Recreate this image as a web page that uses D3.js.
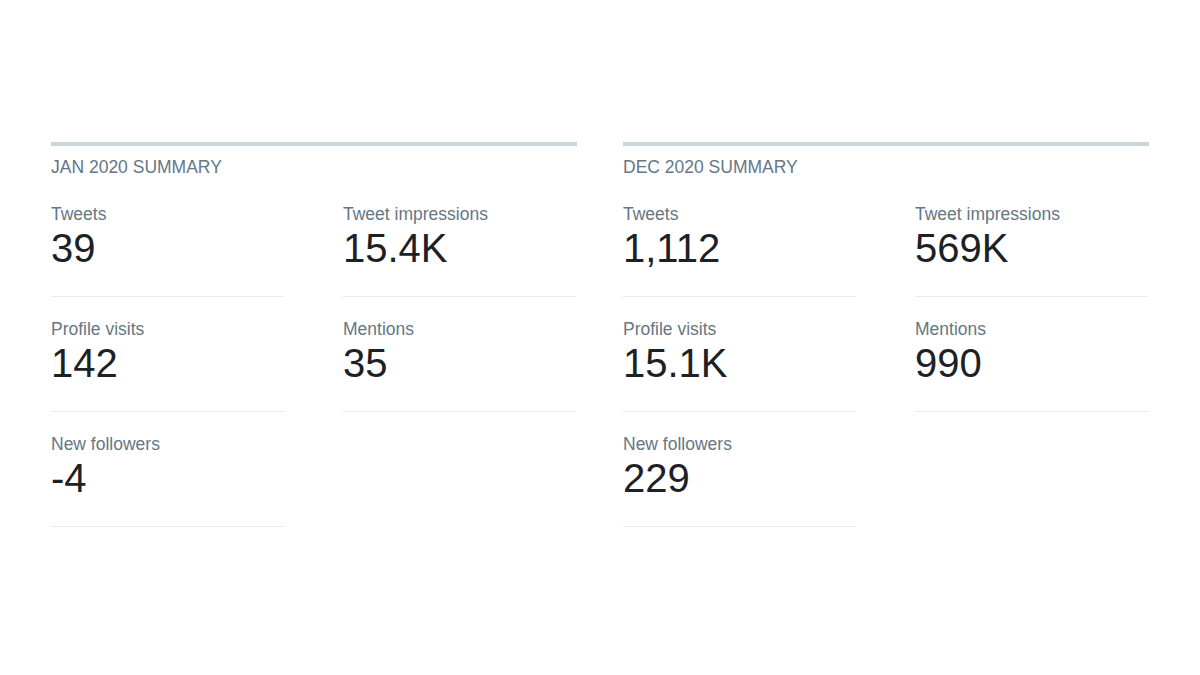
<!DOCTYPE html>
<html>
<head>
<meta charset="utf-8">
<script src="https://cdn.jsdelivr.net/npm/d3@7"></script>
<style>
  body { margin: 0; background: #fff; }
  text { font-family: "Liberation Sans", Arial, Helvetica, sans-serif; }
</style>
</head>
<body>
<svg id="chart" width="1200" height="675"></svg>
<script>
// summary panels
const periods = ['JAN 2020 SUMMARY', 'DEC 2020 SUMMARY'];
const metricNames = ['Tweets', 'Tweet impressions', 'Profile visits', 'Mentions', 'New followers'];
const jan2020 = ['39', '15.4K', '142', '35', '-4'];
const dec2020 = ['1,112', '569K', '15.1K', '990', '229'];
const seriesValues = [jan2020, dec2020];

const svg = d3.select('#chart');

// panel x positions
const xPanel = d3.scalePoint().domain(periods).range([51, 623]);
// column within a panel
const xCol = d3.scaleOrdinal().domain([0, 1]).range([0, 292]);
// row offsets
const yRow = d3.scaleLinear().domain([0, 1]).range([0, 115]);

const panelWidth = 526;
const cellWidth = 233;

const panels = svg.selectAll('g.panel')
  .data(periods.map((p, i) => ({ title: p, values: seriesValues[i] })))
  .join('g')
  .attr('class', 'panel')
  .attr('transform', d => `translate(${xPanel(d.title)},0)`);

panels.append('rect')
  .attr('x', 0)
  .attr('y', 142)
  .attr('width', panelWidth)
  .attr('height', 4)
  .attr('fill', '#ccd6dd');

panels.append('text')
  .attr('x', 0)
  .attr('y', 173)
  .attr('font-size', 17.5)
  .attr('fill', '#657786')
  .text(d => d.title);

const cells = panels.selectAll('g.cell')
  .data(d => d.values.map((v, i) => ({ name: metricNames[i], value: v, i })))
  .join('g')
  .attr('class', 'cell')
  .attr('transform', d => `translate(${xCol(d.i % 2)},${yRow(Math.floor(d.i / 2))})`);

cells.append('text')
  .attr('y', 220)
  .attr('font-size', 17.5)
  .attr('fill', '#657786')
  .text(d => d.name);

cells.append('text')
  .attr('y', 262)
  .attr('font-size', 40)
  .attr('fill', '#1c2125')
  .text(d => d.value);

cells.append('line')
  .attr('x1', 0)
  .attr('x2', cellWidth)
  .attr('y1', 296.5)
  .attr('y2', 296.5)
  .attr('stroke', '#e6ecf0')
  .attr('stroke-width', 1);
</script>
</body>
</html>
